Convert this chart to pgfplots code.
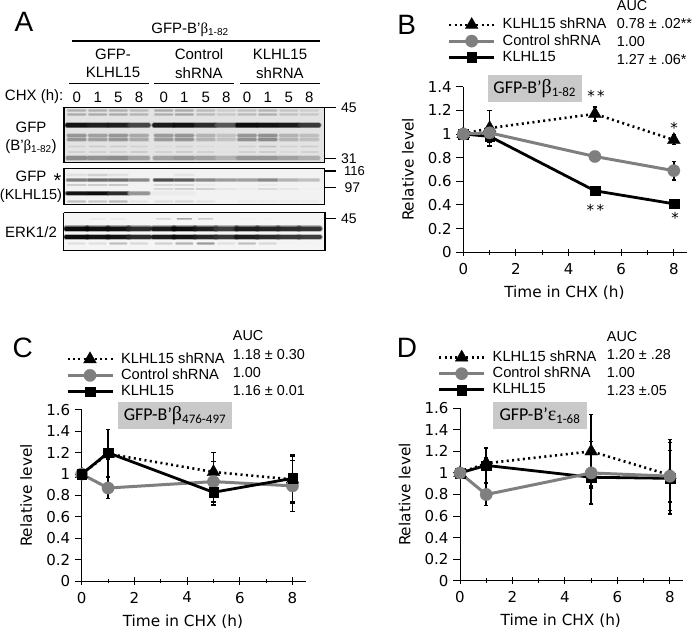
\documentclass[border=0pt]{standalone}
\usepackage{fontspec}
\setmainfont{Liberation Sans}
\newfontfamily\dv{DejaVu Sans}
\newfontfamily\cb{Carlito}
\newfontfamily\lsr{Liberation Serif}
\usepackage{pgfplots}
\pgfplotsset{compat=1.18}
\newcommand\fs[1]{\fontsize{#1}{#1}\selectfont}
\newcommand\lbl[5]{\node[anchor=#3,inner sep=0pt,font=\fs{#4}] at (#1,634-#2) {#5};}
\definecolor{grayline}{HTML}{7F7F7F}
\definecolor{boxgray}{HTML}{C9C9C9}
% one row of blot bands: y, thickness, halfwidth, darkness per lane
\def\lanes{{76.7,97.7,118.3,139,163.7,184.3,205.7,226.3,247,267.7,288.7,309.3}}
\newcommand\bandrow[4]{%
  \foreach \d [count=\i from 0] in {#4} {%
    \ifnum\d>0
      \pgfmathsetmacro\xc{\lanes[\i]}%
      \pgfmathsetmacro\aa{\xc-#3}%
      \pgfmathsetmacro\bb{\xc+#3}%
      \pgfmathsetmacro\wa{#2*1.7}%
      \pgfmathsetmacro\wb{#2*1.25}%
      \edef\tmp{\noexpand\addplot[forget plot,line cap=round,line width=\wa pt,color=black!\d,opacity=0.3] coordinates {(\aa,#1)(\bb,#1)};
      \noexpand\addplot[forget plot,line cap=round,line width=\wb pt,color=black!\d,opacity=0.45] coordinates {(\aa,#1)(\bb,#1)};
      \noexpand\addplot[forget plot,line cap=round,line width=#2 pt,color=black!\d,opacity=0.92] coordinates {(\aa,#1)(\bb,#1)};}%
      \tmp
    \fi
  }%
}
\pgfplotsset{
  panel/.style={
    scale only axis, clip=false, xmin=0, xmax=8.5, ymin=0,
    axis x line=bottom, axis y line=left, axis line style={-,line width=1pt,black},
    xtick={0,2,4,6,8}, minor xtick={1,3,5,7},
    xtick align=center, ytick align=outside,
    major tick length=7pt, minor tick length=4.5pt,
    every tick/.style={black,line width=1pt},
    minor tick style={black,line width=1pt},
    tick label style={font=\dv\fs{15},/pgf/number format/assume math mode=true},
    xticklabel style={yshift=-4pt},
    yticklabel style={xshift=-1pt},
    xlabel={Time in CHX (h)}, ylabel={Relative level},
    label style={font=\dv\fs{15.3}},
    xlabel style={at={(axis description cs:0.452,0)},anchor=north,yshift=-30pt},
    ylabel style={at={(axis description cs:0,0.5)},anchor=south,yshift=46pt},
    legend cell align=left,
    legend image code/.code={\draw[mark repeat=2,mark phase=2,#1] plot coordinates {(0pt,0pt)(22.5pt,0pt)(45pt,0pt)};},
    error bars/y dir=both, error bars/y explicit,
    error bars/error bar style={black,line width=1.6pt,solid},
    error bars/error mark options={rotate=90,mark size=2.2pt,line width=1.4pt,black,solid},
    lgd/.style={legend style={draw=none,fill=none,inner sep=0pt,outer sep=0pt,
      font=\fs{14.7},row sep=0.4pt,
      nodes={inner xsep=7pt,inner ysep=0.9pt,text height=11pt,text depth=3pt},
      at={(axis description cs:0,1)},anchor=south west},},
  },
  tri/.style={black,line width=2.6pt,dash pattern=on 2pt off 3.4pt,mark=triangle*,mark size=7.5pt,mark options={solid,fill=black,draw=black,line width=0.2pt}},
  cir/.style={grayline,line width=3pt,solid,mark=*,mark size=6.2pt,mark options={solid,fill=grayline,draw=grayline,line width=0.2pt}},
  sqr/.style={black,line width=2.8pt,solid,mark=square*,mark size=4.8pt,mark options={solid,fill=black,draw=black,line width=0.2pt}},
}
\begin{document}
\begin{tikzpicture}[x=1pt,y=1pt]
\useasboundingbox (0,0) rectangle (693,634);
% ---------- Panel A: blots
\begin{axis}[at={(0pt,0pt)},anchor=south west,scale only axis,width=693pt,height=634pt,
  xmin=0,xmax=693,ymin=0,ymax=634,y dir=reverse,hide axis,clip=false]
\addplot[forget plot,fill=black!11,draw=none] coordinates {(64,107.3)(324.3,107.3)(324.3,162.7)(64,162.7)} --cycle;
\addplot[forget plot,fill=black!5,draw=none] coordinates {(64,168.3)(324.3,168.3)(324.3,204.3)(64,204.3)} --cycle;
\addplot[forget plot,fill=black!4,draw=none] coordinates {(63.5,212.7)(325,212.7)(325,250.7)(63.5,250.7)} --cycle;
% blot 1
\bandrow{110.5}{1.8}{8.5}{32,32,32,28,34,34,28,20,26,30,24,20}
\bandrow{114.5}{1.8}{8.5}{34,34,34,30,32,36,28,22,28,32,25,22}
\bandrow{125.3}{3.6}{9.5}{95,90,90,75,92,95,85,68,97,95,92,80}
\bandrow{135.5}{2.4}{8.5}{42,38,42,34,40,42,30,24,42,44,30,26}
\bandrow{139.5}{2.4}{8.5}{42,38,42,34,40,42,30,24,44,46,30,26}
\bandrow{146.5}{1.4}{8}{18,20,20,18,14,18,14,12,18,25,18,20}
\bandrow{152}{1.2}{8}{18,18,18,20,18,20,18,12,18,20,15,18}
\bandrow{158}{3.4}{9}{46,44,46,38,38,42,38,30,42,42,38,32}
% blot 2
\bandrow{175}{2}{9}{12,18,12,0,0,10,0,0,0,0,0,0}
\bandrow{180}{2.8}{9}{52,58,58,48,72,65,48,40,38,48,30,25}
\bandrow{185}{1.6}{9}{20,20,22,0,15,15,8,0,0,8,0,0}
\bandrow{189}{1.6}{9}{0,0,0,0,15,18,18,10,8,14,10,6}
\bandrow{193.5}{3.2}{9.5}{95,98,85,42,8,8,0,0,0,0,0,0}
\bandrow{201.5}{1.8}{8.5}{25,22,28,10,12,15,10,5,8,8,8,8}
% blot 3
\bandrow{219}{1}{7}{0,8,8,0,15,35,20,0,5,5,0,0}
\bandrow{228.7}{3.9}{10.5}{98,97,95,85,92,98,90,78,90,88,85,82}
\bandrow{237}{3.8}{10.5}{98,95,95,85,92,95,88,80,90,85,80,78}
\bandrow{243.5}{1.8}{8}{12,12,25,15,18,30,40,12,25,15,5,5}
\addplot[forget plot,black,line width=1.1pt,no markers] coordinates {(64,107.3)(324.3,107.3)(324.3,162.7)(64,162.7)(64,107.3)};
\addplot[forget plot,black,line width=1.1pt,no markers] coordinates {(64,168.3)(324.3,168.3)(324.3,204.3)(64,204.3)(64,168.3)};
\addplot[forget plot,black,line width=1.1pt,no markers] coordinates {(63.5,212.7)(325,212.7)(325,250.7)(63.5,250.7)(63.5,212.7)};
\end{axis}
% Panel A annotations
\lbl{24}{22}{center}{28}{A}
\lbl{190}{30}{center}{15}{GFP-B'{\lsr β}\textsubscript{\fs{10}1-82}}
\draw[line width=1.1pt] (72,634-41)--(320,634-41);
\draw[line width=1pt] (69,634-83.3)--(149,634-83.3);
\draw[line width=1pt] (154,634-83.3)--(234,634-83.3);
\draw[line width=1pt] (240,634-83.3)--(320,634-83.3);
\lbl{113}{54}{center}{15}{GFP-}
\lbl{113}{72.7}{center}{15}{KLHL15}
\lbl{199}{54}{center}{15}{Control}
\lbl{199}{72.7}{center}{15}{shRNA}
\lbl{280}{54}{center}{15}{KLHL15}
\lbl{280}{72.7}{center}{15}{shRNA}
\lbl{63.5}{97}{east}{15}{CHX (h):}
\foreach \x/\t in {76.7/0,97.7/1,118.3/5,139/8,163.7/0,184.3/1,205.7/5,226.3/8,247/0,267.7/1,288.7/5,309.3/8}{\lbl{\x}{97}{center}{15}{\t}}
\lbl{31}{127}{center}{15}{GFP}
\lbl{31}{147}{center}{15}{(B'{\lsr β}\textsubscript{\fs{10}1-82})}
\lbl{31}{176.5}{center}{15}{GFP}
\lbl{57.5}{181}{center}{20}{*}
\lbl{31}{196}{center}{14.5}{(KLHL15)}
\lbl{31}{232}{center}{15}{ERK1/2}
\foreach \y in {107.5,158.3,171,187.7,218.3}{
  \draw[line width=1.1pt] (324.5,634-\y)--(336,634-\y);
}
\lbl{341}{108}{west}{14}{45}
\lbl{341}{158.5}{west}{14}{31}
\lbl{344}{171}{west}{13}{116}
\lbl{344.3}{187.5}{west}{14}{97}
\lbl{341}{218.5}{west}{14}{45}
% ---------- Panel B
\fill[boxgray] (488.3,634-74.7) rectangle (581.7,634-101.7);
\begin{axis}[panel,at={(463.3pt,381.7pt)},anchor=origin,width=223.7pt,height=165.6pt,ymax=1.4,
  ytick={0,0.2,0.4,0.6,0.8,1,1.2,1.4},lgd,
  legend style={xshift=-15.6pt,yshift=21.5pt}]
\addlegendimage{tri}\addlegendentry{KLHL15 shRNA}
\addlegendimage{cir}\addlegendentry{Control shRNA}
\addlegendimage{sqr}\addlegendentry{KLHL15}
\addplot[sqr,forget plot] coordinates {(0,1)(1,0.98) +- (0,0.05) (5,0.52) +- (0,0.03) (8,0.41) +- (0,0.02)};
\addplot[tri,forget plot] coordinates {(0,1)(1,1.05) +- (0,0.15) (5,1.17) +- (0,0.06) (8,0.95) +- (0,0.04)};
\addplot[cir,forget plot] coordinates {(0,1)(1,1.01) +- (0,0.05) (5,0.81) +- (0,0.04) (8,0.69) +- (0,0.08)};
\end{axis}
\lbl{534.7}{88.5}{center}{18}{\cb GFP-B’{\lsr\fs{20}β}\textsubscript{\fs{13}1-82}}
\lbl{596}{96}{center}{15}{\dv *\,*}
\lbl{674}{128}{center}{15}{\dv *}
\lbl{595.3}{210}{center}{15}{\dv *\,*}
\lbl{675}{218}{center}{15}{\dv *}
\lbl{406.7}{25}{center}{28}{B}
\lbl{616.7}{6}{west}{14.4}{AUC}
\lbl{616.7}{24}{west}{14.4}{0.78 ± .02**}
\lbl{616.7}{41.7}{west}{14.4}{1.00}
\lbl{616.7}{60}{west}{14.4}{1.27 ± .06*}
% ---------- Panel C
\fill[boxgray] (118.3,634-402) rectangle (231.7,634-429);
\begin{axis}[panel,at={(81.7pt,53pt)},anchor=origin,width=224pt,height=171pt,ymax=1.6,
  ytick={0,0.2,0.4,0.6,0.8,1,1.2,1.4,1.6},lgd,
  legend style={xshift=-15.7pt,yshift=10.5pt}]
\addlegendimage{tri}\addlegendentry{KLHL15 shRNA}
\addlegendimage{cir}\addlegendentry{Control shRNA}
\addlegendimage{sqr}\addlegendentry{KLHL15}
\addplot[tri,forget plot] coordinates {(0,1)(1,1.19) +- (0,0.05) (5,1.02) +- (0,0.18) (8,0.95) +- (0,0.22)};
\addplot[cir,forget plot] coordinates {(0,1)(1,0.87) +- (0,0.1) (5,0.93) +- (0,0.19) (8,0.89) +- (0,0.24)};
\addplot[sqr,forget plot] coordinates {(0,1)(1,1.2) +- (0,0.22) (5,0.83) +- (0,0.12) (8,0.96) +- (0,0.22)};
\end{axis}
\lbl{175}{416}{center}{18}{\cb GFP-B’{\lsr\fs{20}β}\textsubscript{\fs{13}476-497}}
\lbl{22.7}{348}{center}{28}{C}
\lbl{232.7}{336}{west}{14.4}{AUC}
\lbl{232.7}{354.3}{west}{14.4}{1.18 ± 0.30}
\lbl{232.7}{372.7}{west}{14.4}{1.00}
\lbl{232.7}{391}{west}{14.4}{1.16 ± 0.01}
% ---------- Panel D
\fill[boxgray] (493.3,634-402) rectangle (587.3,634-429);
\begin{axis}[panel,at={(460pt,53.3pt)},anchor=origin,width=223pt,height=172.4pt,ymax=1.6,
  ytick={0,0.2,0.4,0.6,0.8,1,1.2,1.4,1.6},lgd,
  legend style={xshift=-22.3pt,yshift=10.5pt}]
\addlegendimage{tri}\addlegendentry{KLHL15 shRNA}
\addlegendimage{cir}\addlegendentry{Control shRNA}
\addlegendimage{sqr}\addlegendentry{KLHL15}
\addplot[sqr,forget plot] coordinates {(0,1)(1,1.07) +- (0,0.16) (5,0.96) +- (0,0.08) (8,0.95) +- (0,0.33)};
\addplot[tri,forget plot] coordinates {(0,1)(1,1.09) +- (0,0.05) (5,1.2) +- (0,0.34) (8,0.98) +- (0,0.33)};
\addplot[cir,forget plot] coordinates {(0,1)(1,0.8) +- (0,0.1) (5,1.0) +- (0,0.29) (8,0.97) +- (0,0.24)};
\end{axis}
\lbl{540}{416}{center}{18}{\cb GFP-B’{\lsr\fs{20}ε}\textsubscript{\fs{13}1-68}}
\lbl{407}{348}{center}{28}{D}
\lbl{606.7}{336.7}{west}{14.4}{AUC}
\lbl{606.7}{354.3}{west}{14.4}{1.20 ± .28}
\lbl{606.7}{373}{west}{14.4}{1.00}
\lbl{606.7}{391}{west}{14.4}{1.23 ±.05}
\end{tikzpicture}
\end{document}
